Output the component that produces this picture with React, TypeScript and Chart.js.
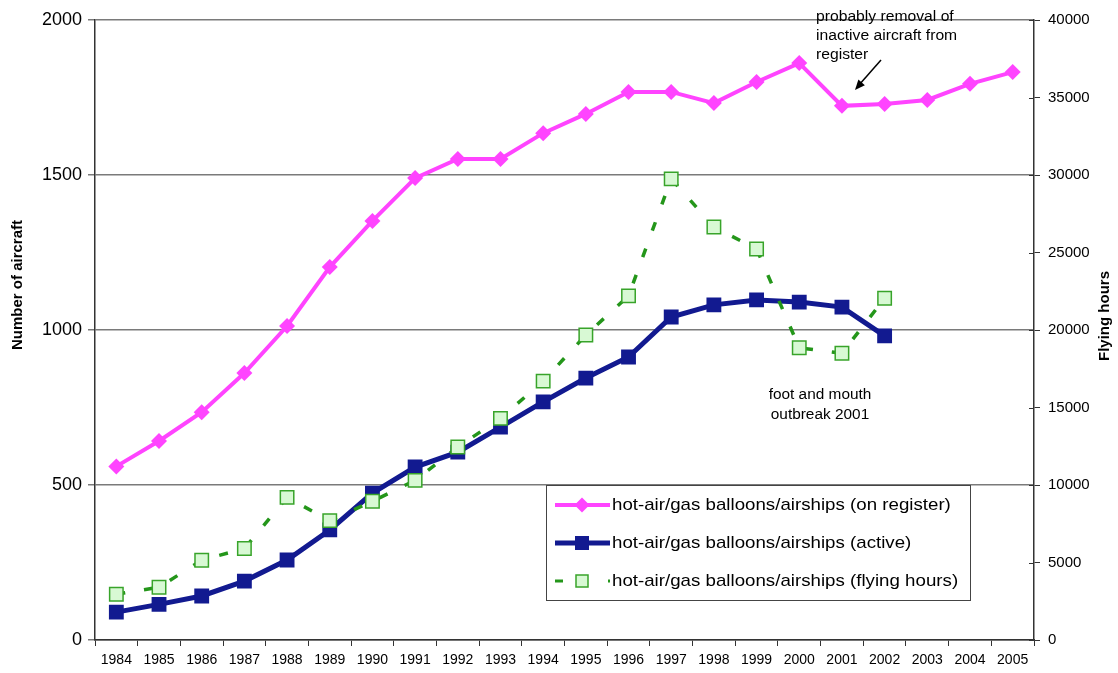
import React, { useEffect, useRef } from "react";
import { Chart, registerables } from "chart.js";

Chart.register(...registerables);

const years = ["1984","1985","1986","1987","1988","1989","1990","1991","1992","1993","1994","1995","1996","1997","1998","1999","2000","2001","2002","2003","2004","2005"];
const onRegister = [560, 642, 735, 861, 1013, 1203, 1352, 1490, 1552, 1552, 1635, 1697, 1768, 1768, 1732, 1800, 1861, 1723, 1729, 1742, 1794, 1832];
const active = [90, 115, 142, 190, 258, 355, 474, 558, 606, 687, 768, 845, 913, 1042, 1081, 1097, 1090, 1074, 981, null, null, null];
const flyingHours = [2950, 3400, 5150, 5900, 9200, 7700, 8950, 10300, 12450, 14300, 16700, 19680, 22200, 29750, 26650, 25230, 18850, 18500, 22050, null, null, null];

const seriesLabels = [
  "hot-air/gas balloons/airships (on register)",
  "hot-air/gas balloons/airships (active)",
  "hot-air/gas balloons/airships (flying hours)",
];
const leftTicks = [0, 500, 1000, 1500, 2000];
const rightTicks = [0, 5000, 10000, 15000, 20000, 25000, 30000, 35000, 40000];
const leftTitle = "Number of aircraft";
const rightTitle = "Flying hours";
const noteRegister = ["probably removal of", "inactive aircraft from", "register"];
const noteFoot = ["foot and mouth", "outbreak 2001"];

const FONT = "Arial, 'Liberation Sans', sans-serif";
const PINK = "#FF44FF";
const BLUE = "#121A90";
const GREEN = "#24961A";
const GREEN_FILL = "#D8F9D4";
const GREEN_EDGE = "#38A42A";

function stretchText(ctx: CanvasRenderingContext2D, text: string, x: number, y: number, sx: number, align: "left" | "center") {
  ctx.save();
  ctx.translate(x, y);
  ctx.scale(sx, 1);
  ctx.textAlign = align;
  ctx.fillText(text, 0, 0);
  ctx.restore();
}

const extras = {
  id: "extras",
  afterDraw(chart: any) {
    const ctx = chart.ctx as CanvasRenderingContext2D;
    const ca = chart.chartArea;
    const yR = chart.scales.y2;
    ctx.save();
    ctx.strokeStyle = "#333";
    ctx.lineWidth = 1;
    rightTicks.forEach((v) => {
      const y = Math.round(yR.getPixelForValue(v)) + 0.5;
      ctx.beginPath();
      ctx.moveTo(ca.right - 5, y);
      ctx.lineTo(ca.right, y);
      ctx.stroke();
    });

    ctx.fillStyle = "#000";
    ctx.font = `bold 15px ${FONT}`;
    ctx.textAlign = "center";
    ctx.textBaseline = "middle";
    ctx.save();
    ctx.translate(18, 285);
    ctx.rotate(-Math.PI / 2);
    ctx.fillText(leftTitle, 0, 0);
    ctx.restore();
    ctx.save();
    ctx.translate(1105, 316);
    ctx.rotate(-Math.PI / 2);
    ctx.fillText(rightTitle, 0, 0);
    ctx.restore();

    ctx.font = `14px ${FONT}`;
    noteRegister.forEach((t, i) => stretchText(ctx, t, 816, 17 + i * 19, 1.12, "left"));
    noteFoot.forEach((t, i) => stretchText(ctx, t, 820, 395 + i * 20, 1.1, "center"));

    const x1 = 881, y1 = 60, x2 = 855, y2 = 90;
    ctx.strokeStyle = "#000";
    ctx.lineWidth = 1.5;
    ctx.beginPath();
    ctx.moveTo(x1, y1);
    ctx.lineTo(x2 + 4, y2 - 5);
    ctx.stroke();
    const ang = Math.atan2(y2 - y1, x2 - x1);
    ctx.beginPath();
    ctx.moveTo(x2, y2);
    ctx.lineTo(x2 - 11 * Math.cos(ang - 0.4), y2 - 11 * Math.sin(ang - 0.4));
    ctx.lineTo(x2 - 11 * Math.cos(ang + 0.4), y2 - 11 * Math.sin(ang + 0.4));
    ctx.closePath();
    ctx.fillStyle = "#000";
    ctx.fill();

    const lx = 546, ly = 485, lw = 424, lh = 115;
    ctx.fillStyle = "#fff";
    ctx.fillRect(lx, ly, lw, lh);
    ctx.strokeStyle = "#444";
    ctx.lineWidth = 1;
    ctx.strokeRect(lx + 0.5, ly + 0.5, lw, lh);
    const rows = [505, 543, 581];
    ctx.strokeStyle = PINK;
    ctx.lineWidth = 4;
    ctx.beginPath();
    ctx.moveTo(555, rows[0]);
    ctx.lineTo(610, rows[0]);
    ctx.stroke();
    ctx.fillStyle = PINK;
    ctx.beginPath();
    ctx.moveTo(582 - 7.5, rows[0]);
    ctx.lineTo(582, rows[0] - 7.5);
    ctx.lineTo(582 + 7.5, rows[0]);
    ctx.lineTo(582, rows[0] + 7.5);
    ctx.closePath();
    ctx.fill();
    ctx.strokeStyle = BLUE;
    ctx.lineWidth = 5;
    ctx.beginPath();
    ctx.moveTo(555, rows[1]);
    ctx.lineTo(610, rows[1]);
    ctx.stroke();
    ctx.fillStyle = BLUE;
    ctx.fillRect(575, rows[1] - 7, 14, 14);
    ctx.strokeStyle = GREEN;
    ctx.lineWidth = 3;
    ctx.beginPath();
    ctx.moveTo(555, rows[2]);
    ctx.lineTo(563, rows[2]);
    ctx.moveTo(608, rows[2]);
    ctx.lineTo(610, rows[2]);
    ctx.stroke();
    ctx.fillStyle = GREEN_FILL;
    ctx.fillRect(576, rows[2] - 6, 12, 12);
    ctx.strokeStyle = GREEN_EDGE;
    ctx.lineWidth = 1.5;
    ctx.strokeRect(576, rows[2] - 6, 12, 12);
    ctx.fillStyle = "#000";
    ctx.font = `17px ${FONT}`;
    ctx.textBaseline = "middle";
    seriesLabels.forEach((t, i) => stretchText(ctx, t, 612, rows[i], 1.1, "left"));
    ctx.restore();
  },
};

export default function App() {
  const ref = useRef<HTMLCanvasElement>(null);
  useEffect(() => {
    if (!ref.current) return;
    Chart.defaults.font.family = FONT;
    const chart = new Chart(ref.current, {
      type: "line",
      data: {
        labels: years,
        datasets: [
          {
            label: seriesLabels[0],
            data: onRegister,
            yAxisID: "y",
            borderColor: PINK,
            backgroundColor: PINK,
            borderWidth: 4,
            pointStyle: "rectRot",
            pointRadius: 8,
            pointBorderWidth: 0,
            tension: 0,
            order: 2,
          },
          {
            label: seriesLabels[1],
            data: active,
            yAxisID: "y",
            borderColor: BLUE,
            backgroundColor: BLUE,
            borderWidth: 5,
            pointStyle: "rect",
            pointRadius: 10.5,
            pointBorderWidth: 0,
            tension: 0,
            order: 1,
          },
          {
            label: seriesLabels[2],
            data: flyingHours,
            yAxisID: "y2",
            borderColor: GREEN,
            backgroundColor: GREEN_FILL,
            borderWidth: 3.5,
            borderDash: [9, 19],
            pointStyle: "rect",
            pointRadius: 9.5,
            pointBorderColor: GREEN_EDGE,
            pointBorderWidth: 1.5,
            tension: 0,
            order: 0,
          },
        ],
      },
      options: {
        responsive: false,
        animation: false,
        devicePixelRatio: 1,
        layout: { padding: { top: 20, left: 0, right: 0, bottom: 0 } },
        plugins: { legend: { display: false }, tooltip: { enabled: false } },
        scales: {
          x: {
            type: "category",
            offset: true,
            grid: { offset: true, drawOnChartArea: false, color: "#333", tickLength: 6, lineWidth: 1 },
            border: { color: "#333", width: 1.5 },
            ticks: { color: "#000", font: { size: 14 }, padding: 6, maxRotation: 0, autoSkip: false },
            afterFit: (s: any) => { s.height = 33; },
          },
          y: {
            position: "left",
            min: 0,
            max: 2000,
            afterBuildTicks: (s: any) => { s.ticks = leftTicks.map((v) => ({ value: v })); },
            grid: { color: "#7a7a7a", lineWidth: 1.5, tickLength: 7 },
            border: { color: "#333", width: 1.5 },
            ticks: { color: "#000", font: { size: 18 }, padding: 6, callback: (v: any) => String(v) },
            afterFit: (s: any) => { s.width = 95; },
          },
          y2: {
            position: "right",
            min: 0,
            max: 40000,
            afterBuildTicks: (s: any) => { s.ticks = rightTicks.map((v) => ({ value: v })); },
            grid: { drawOnChartArea: false, color: "#333", tickLength: 6 },
            border: { color: "#333", width: 1.5 },
            ticks: { color: "#000", font: { size: 15 }, padding: 8, callback: (v: any) => String(v) },
            afterFit: (s: any) => { s.width = 84; },
          },
        },
      },
      plugins: [extras],
    } as any);
    return () => chart.destroy();
  }, []);
  return (
    <div style={{ position: "absolute", left: 0, top: 0, width: 1118, height: 673, background: "#fff" }}>
      <canvas ref={ref} width={1118} height={673} style={{ display: "block" }} />
    </div>
  );
}
